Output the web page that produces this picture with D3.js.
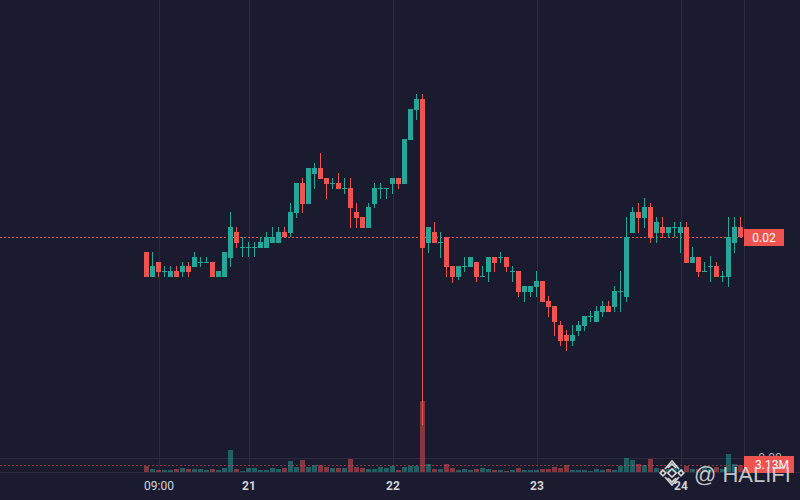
<!DOCTYPE html>
<html>
<head>
<meta charset="utf-8">
<script src="https://cdn.jsdelivr.net/npm/d3@7"></script>
<style>
    html, body { margin: 0; padding: 0; background: #1a1b2e; }
    svg { display: block; }
</style>
</head>
<body>
<div id="chart"></div>
<script>
// hourly candles, first one at 07:00 on the 20th
const startTime = new Date(2024, 0, 20, 7);
const open = [0.0185, 0.0160, 0.0175, 0.0166, 0.0160, 0.0166, 0.0165, 0.0171, 0.0170, 0.0175,
    0.0175, 0.0175, 0.0160, 0.0160, 0.0179, 0.0205, 0.0190, 0.0190, 0.0190, 0.0189,
    0.0189, 0.0194, 0.0194, 0.0205, 0.0204, 0.0224, 0.0254, 0.0233, 0.0263, 0.0269,
    0.0259, 0.0254, 0.0254, 0.0249, 0.0249, 0.0225, 0.0220, 0.0209, 0.0233, 0.0249,
    0.0249, 0.0253, 0.0259, 0.0253, 0.0297, 0.0327, 0.0338, 0.0194, 0.0205, 0.0195,
    0.0200, 0.0171, 0.0160, 0.0171, 0.0170, 0.0175, 0.0161, 0.0165, 0.0180, 0.0180,
    0.0180, 0.0166, 0.0166, 0.0145, 0.0145, 0.0150, 0.0156, 0.0136, 0.0131, 0.0112,
    0.0102, 0.0096, 0.0106, 0.0111, 0.0121, 0.0115, 0.0125, 0.0131, 0.0130, 0.0146,
    0.0140, 0.0204, 0.0225, 0.0219, 0.0230, 0.0204, 0.0210, 0.0204, 0.0210, 0.0204,
    0.0210, 0.0174, 0.0180, 0.0166, 0.0171, 0.0171, 0.0161, 0.0160, 0.0194, 0.0210];
const high = [0.0185, 0.0185, 0.0175, 0.0171, 0.0171, 0.0171, 0.0175, 0.0175, 0.0185, 0.0180,
    0.0180, 0.0175, 0.0166, 0.0185, 0.0225, 0.0210, 0.0200, 0.0195, 0.0195, 0.0200,
    0.0205, 0.0210, 0.0210, 0.0210, 0.0234, 0.0254, 0.0259, 0.0269, 0.0274, 0.0284,
    0.0259, 0.0259, 0.0264, 0.0259, 0.0259, 0.0234, 0.0220, 0.0234, 0.0254, 0.0254,
    0.0249, 0.0259, 0.0259, 0.0298, 0.0328, 0.0343, 0.0343, 0.0210, 0.0215, 0.0205,
    0.0200, 0.0171, 0.0171, 0.0180, 0.0180, 0.0175, 0.0171, 0.0180, 0.0180, 0.0185,
    0.0180, 0.0171, 0.0166, 0.0151, 0.0151, 0.0166, 0.0156, 0.0141, 0.0131, 0.0116,
    0.0107, 0.0112, 0.0116, 0.0121, 0.0126, 0.0131, 0.0136, 0.0136, 0.0151, 0.0166,
    0.0220, 0.0230, 0.0234, 0.0239, 0.0234, 0.0220, 0.0220, 0.0210, 0.0215, 0.0215,
    0.0215, 0.0190, 0.0180, 0.0175, 0.0181, 0.0175, 0.0166, 0.0220, 0.0220, 0.0220];
const low = [0.0160, 0.0160, 0.0160, 0.0160, 0.0160, 0.0160, 0.0160, 0.0160, 0.0170, 0.0170,
    0.0175, 0.0160, 0.0160, 0.0160, 0.0170, 0.0189, 0.0180, 0.0180, 0.0180, 0.0189,
    0.0189, 0.0194, 0.0194, 0.0200, 0.0200, 0.0219, 0.0224, 0.0233, 0.0248, 0.0258,
    0.0238, 0.0248, 0.0248, 0.0243, 0.0209, 0.0209, 0.0209, 0.0209, 0.0229, 0.0238,
    0.0238, 0.0243, 0.0248, 0.0253, 0.0297, 0.0317, 0.0012, 0.0184, 0.0194, 0.0179,
    0.0160, 0.0154, 0.0157, 0.0165, 0.0170, 0.0155, 0.0161, 0.0155, 0.0165, 0.0174,
    0.0165, 0.0155, 0.0140, 0.0135, 0.0140, 0.0140, 0.0135, 0.0120, 0.0101, 0.0091,
    0.0086, 0.0091, 0.0101, 0.0106, 0.0115, 0.0115, 0.0120, 0.0125, 0.0125, 0.0125,
    0.0135, 0.0204, 0.0204, 0.0209, 0.0194, 0.0194, 0.0199, 0.0200, 0.0200, 0.0184,
    0.0174, 0.0174, 0.0160, 0.0165, 0.0155, 0.0160, 0.0155, 0.0150, 0.0184, 0.0199];
const close = [0.0160, 0.0171, 0.0165, 0.0166, 0.0166, 0.0160, 0.0171, 0.0165, 0.0180, 0.0175,
    0.0175, 0.0160, 0.0166, 0.0185, 0.0210, 0.0194, 0.0190, 0.0190, 0.0190, 0.0195,
    0.0200, 0.0200, 0.0205, 0.0200, 0.0225, 0.0254, 0.0233, 0.0269, 0.0269, 0.0258,
    0.0253, 0.0254, 0.0248, 0.0249, 0.0229, 0.0219, 0.0209, 0.0230, 0.0249, 0.0249,
    0.0249, 0.0259, 0.0253, 0.0298, 0.0328, 0.0338, 0.0189, 0.0210, 0.0194, 0.0195,
    0.0170, 0.0160, 0.0171, 0.0171, 0.0180, 0.0160, 0.0161, 0.0180, 0.0174, 0.0180,
    0.0170, 0.0166, 0.0145, 0.0151, 0.0151, 0.0156, 0.0135, 0.0130, 0.0115, 0.0096,
    0.0096, 0.0102, 0.0112, 0.0121, 0.0121, 0.0126, 0.0131, 0.0125, 0.0146, 0.0146,
    0.0200, 0.0225, 0.0219, 0.0230, 0.0199, 0.0215, 0.0204, 0.0210, 0.0210, 0.0210,
    0.0174, 0.0180, 0.0165, 0.0166, 0.0171, 0.0160, 0.0161, 0.0200, 0.0210, 0.0200];
// volume in millions
const volume = [2.82, 1.34, 0.89, 0.89, 0.89, 1.34, 1.79, 1.34, 1.34, 1.34,
    0.89, 1.34, 0.89, 1.79, 9.83, 1.34, 0.45, 1.79, 1.79, 0.89,
    0.89, 1.79, 1.34, 1.79, 4.92, 2.24, 5.36, 2.24, 3.13, 3.13,
    2.24, 1.79, 1.79, 1.79, 5.81, 2.24, 1.79, 1.34, 1.34, 2.24,
    1.79, 2.68, 0.89, 2.24, 2.68, 2.68, 31.74, 3.58, 1.34, 1.34,
    3.58, 1.79, 0.89, 1.34, 0.89, 1.34, 1.79, 1.34, 0.89, 0.89,
    0.45, 0.89, 1.79, 0.89, 0.89, 0.89, 1.34, 1.34, 2.24, 1.79,
    3.13, 0.89, 0.89, 0.89, 0.45, 1.34, 0.89, 1.34, 0.89, 2.68,
    6.26, 5.36, 3.58, 3.13, 5.81, 1.79, 1.34, 1.34, 1.79, 1.34,
    2.68, 1.34, 1.34, 1.79, 1.34, 2.24, 1.34, 8.05, 3.58, 3.13];
const tickDates = [new Date(2024, 0, 20, 9), new Date(2024, 0, 21), new Date(2024, 0, 22),
    new Date(2024, 0, 23), new Date(2024, 0, 24)];
const tickLabels = ["09:00", "21", "22", "23", "24"];

const width = 800, height = 500;
const plotRight = 744, plotBottom = 472;
const upColor = "#26a69a", downColor = "#ef5350";
const gridColor = "#2a2b40";
const font = "'Trebuchet MS', Roboto, sans-serif";

const candles = open.map((o, i) => ({
    time: d3.timeHour.offset(startTime, i),
    open: o, high: high[i], low: low[i], close: close[i], volume: volume[i]
}));

const svg = d3.select("#chart").append("svg")
    .attr("width", width)
    .attr("height", height)
    .style("background", "#1a1b2e");

const xScale = d3.scaleTime()
    .domain([candles[0].time, candles[candles.length - 1].time])
    .range([146.5, 740.5]);
const yScale = d3.scaleLinear()
    .domain([-0.0035, 0.0437])
    .range([plotBottom, 0]);
const volScale = d3.scaleLinear()
    .domain([0, d3.max(volume)])
    .range([plotBottom, 401]);

// grid
svg.append("g").selectAll("line")
    .data(tickDates)
    .enter().append("line")
    .attr("x1", d => Math.round(xScale(d)) + 0.5)
    .attr("x2", d => Math.round(xScale(d)) + 0.5)
    .attr("y1", 0).attr("y2", plotBottom)
    .attr("stroke", gridColor);
svg.append("line")
    .attr("x1", 0).attr("x2", plotRight)
    .attr("y1", 458.5).attr("y2", 458.5)
    .attr("stroke", gridColor);
svg.append("line")
    .attr("x1", 0).attr("x2", width)
    .attr("y1", plotBottom + 0.5).attr("y2", plotBottom + 0.5)
    .attr("stroke", gridColor);
svg.append("line")
    .attr("x1", plotRight + 0.5).attr("x2", plotRight + 0.5)
    .attr("y1", 0).attr("y2", plotBottom)
    .attr("stroke", gridColor);

// volume histogram
svg.append("g").selectAll("rect")
    .data(candles)
    .enter().append("rect")
    .attr("x", d => xScale(d.time) - 2.5)
    .attr("width", 5)
    .attr("y", d => volScale(d.volume))
    .attr("height", d => plotBottom - volScale(d.volume))
    .attr("fill", d => d.close >= d.open ? upColor : downColor)
    .attr("fill-opacity", 0.5)
    .attr("shape-rendering", "crispEdges");

const lastVol = volume[volume.length - 1];
svg.append("line")
    .attr("x1", 0).attr("x2", plotRight)
    .attr("y1", Math.round(volScale(lastVol)) + 0.5)
    .attr("y2", Math.round(volScale(lastVol)) + 0.5)
    .attr("stroke", downColor)
    .attr("stroke-opacity", 0.5)
    .attr("stroke-dasharray", "2,2");

// last price line
const lastClose = close[close.length - 1];
svg.append("line")
    .attr("x1", 0).attr("x2", plotRight)
    .attr("y1", Math.round(yScale(lastClose)) + 0.5)
    .attr("y2", Math.round(yScale(lastClose)) + 0.5)
    .attr("stroke", downColor)
    .attr("stroke-dasharray", "2,2");

// candles
const candleG = svg.append("g").attr("shape-rendering", "crispEdges");
candleG.selectAll("rect.wick")
    .data(candles)
    .enter().append("rect")
    .attr("class", "wick")
    .attr("x", d => xScale(d.time) - 0.5)
    .attr("width", 1)
    .attr("y", d => yScale(d.high))
    .attr("height", d => Math.max(1, yScale(d.low) - yScale(d.high)))
    .attr("fill", d => d.close >= d.open ? upColor : downColor);
candleG.selectAll("rect.body")
    .data(candles)
    .enter().append("rect")
    .attr("class", "body")
    .attr("x", d => xScale(d.time) - 2.5)
    .attr("width", 5)
    .attr("y", d => yScale(Math.max(d.open, d.close)))
    .attr("height", d => Math.max(1, Math.abs(yScale(d.open) - yScale(d.close))))
    .attr("fill", d => d.close >= d.open ? upColor : downColor);

// time axis
const xAxis = d3.axisBottom(xScale)
    .tickValues(tickDates)
    .tickFormat((d, i) => tickLabels[i])
    .tickSize(0)
    .tickPadding(0);
const axisG = svg.append("g")
    .attr("transform", `translate(0,${plotBottom})`)
    .call(xAxis);
axisG.select(".domain").remove();
axisG.selectAll("text")
    .attr("y", 18)
    .attr("dy", 0)
    .attr("fill", "#d1d4dc")
    .style("font-family", font)
    .style("font-size", "12px")
    .style("font-weight", (d, i) => i === 0 ? "normal" : "bold");

// price scale labels
svg.append("text")
    .attr("x", 770).attr("y", 462)
    .attr("text-anchor", "middle")
    .attr("fill", "#b2b5be")
    .style("font-family", font)
    .style("font-size", "12px")
    .text("0.00");

const priceY = Math.round(yScale(lastClose));
svg.append("rect")
    .attr("x", plotRight).attr("y", priceY - 8)
    .attr("width", 40).attr("height", 17)
    .attr("fill", downColor);
svg.append("text")
    .attr("x", 764).attr("y", priceY + 4.5)
    .attr("text-anchor", "middle")
    .attr("fill", "#ffffff")
    .style("font-family", font)
    .style("font-size", "12px")
    .text(d3.format(".2f")(lastClose));

const volY = Math.round(volScale(lastVol));
svg.append("rect")
    .attr("x", plotRight).attr("y", volY - 9)
    .attr("width", 50).attr("height", 17)
    .attr("fill", downColor);
svg.append("text")
    .attr("x", 772).attr("y", volY + 4)
    .attr("text-anchor", "middle")
    .attr("fill", "#ffffff")
    .style("font-family", font)
    .style("font-size", "12px")
    .text(d3.format(".2f")(lastVol) + "M");

// watermark
const mark = svg.append("g")
    .attr("transform", "translate(672,473)")
    .attr("fill", "none")
    .attr("stroke", "#d8d8d8")
    .attr("stroke-width", 1.6);
mark.append("rect").attr("x", -3).attr("y", -3).attr("width", 6).attr("height", 6)
    .attr("transform", "rotate(45)");
mark.append("rect").attr("x", -2).attr("y", -2).attr("width", 4).attr("height", 4)
    .attr("transform", "translate(-9,0) rotate(45)");
mark.append("rect").attr("x", -2).attr("y", -2).attr("width", 4).attr("height", 4)
    .attr("transform", "translate(9,0) rotate(45)");
mark.append("path").attr("d", "M-7,-4 L0,-12 L7,-4 M-4,-5 L0,-9 L4,-5");
mark.append("path").attr("d", "M-7,4 L0,12 L7,4 M-4,5 L0,9 L4,5");
svg.append("text")
    .attr("x", 694).attr("y", 482)
    .attr("fill", "#dcdcdc")
    .attr("fill-opacity", 0.9)
    .style("font-family", "'Liberation Sans', Arial, sans-serif")
    .style("font-size", "22px")
    .text("@ HALIFI");
</script>
</body>
</html>
